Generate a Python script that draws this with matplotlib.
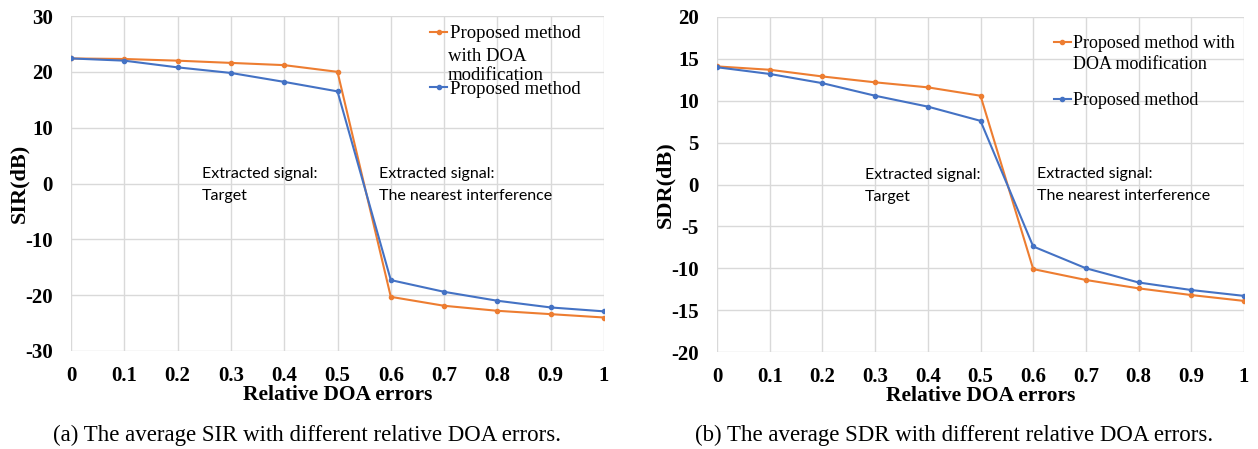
import matplotlib
matplotlib.use("Agg")
import matplotlib.pyplot as plt
import numpy as np

# relative DOA errors (x axis)
doa_err = [0, 0.1, 0.2, 0.3, 0.4, 0.5, 0.6, 0.7, 0.8, 0.9, 1]
xtick_labels = ["0", "0.1", "0.2", "0.3", "0.4", "0.5", "0.6", "0.7", "0.8", "0.9", "1"]

# (a) SIR in dB
sir_doa_mod = [22.4, 22.3, 22.0, 21.6, 21.2, 20.0, -20.3, -21.9, -22.8, -23.4, -24.0]
sir_proposed = [22.4, 22.0, 20.8, 19.8, 18.2, 16.5, -17.3, -19.4, -21.0, -22.2, -22.9]

# (b) SDR in dB
sdr_doa_mod = [14.1, 13.7, 12.9, 12.2, 11.6, 10.6, -10.1, -11.4, -12.4, -13.2, -13.9]
sdr_proposed = [14.0, 13.2, 12.1, 10.6, 9.3, 7.6, -7.4, -10.0, -11.7, -12.6, -13.3]

ORANGE = "#ED7D31"
BLUE = "#4472C4"
GRID = "#d9d9d9"

plt.rcParams['font.family'] = ['Liberation Serif', 'DejaVu Serif']
plt.rcParams['axes.unicode_minus'] = False


def drawPanel(ax, y_mod, y_prop, ylim, yticks, ylabel, leg_label, leg_extra, leg_pos,
              extra_pos, leg_spacing, ann_left, ann_right, leg_fs):
    l1, = ax.plot(doa_err, y_mod, color=ORANGE, lw=1.5, marker='o', ms=3)
    l2, = ax.plot(doa_err, y_prop, color=BLUE, lw=1.5, marker='o', ms=3)
    ax.set_xlim(0, 1)
    ax.set_ylim(*ylim)
    ax.set_yticks(yticks)
    ax.set_xticks(doa_err)
    ax.set_xticklabels(xtick_labels)
    ax.grid(True, color=GRID, lw=1)
    ax.set_axisbelow(True)
    for s in ax.spines.values():
        s.set_visible(False)
    ax.tick_params(length=0, labelsize=15)
    ax.tick_params(axis='x', pad=11)
    ax.tick_params(axis='y', pad=13)
    for t in ax.get_xticklabels() + ax.get_yticklabels():
        t.set_fontweight('bold')
    ax.set_xlabel("Relative DOA errors", fontsize=15.5, fontweight='bold', labelpad=-1)
    ax.set_ylabel(ylabel, fontsize=16, fontweight='bold', labelpad=-3)
    ax.legend([l1, l2], [leg_label, "Proposed method"], loc='upper left',
              bbox_to_anchor=leg_pos, frameon=False, fontsize=leg_fs, handlelength=0.9,
              handletextpad=0.15, borderpad=0, borderaxespad=0, labelspacing=leg_spacing)
    ax.text(extra_pos[0], extra_pos[1], leg_extra, transform=ax.transAxes, fontsize=leg_fs,
            va='top', ha='left', linespacing=1.2)
    ax.text(ann_left[0], ann_left[1], "Extracted signal:\nTarget", fontsize=11.5,
            family='Lato', va='center', ha='left', linespacing=1.75)
    ax.text(ann_right[0], ann_right[1], "Extracted signal:\nThe nearest interference",
            fontsize=11.5, family='Lato', va='center', ha='left', linespacing=1.75)


fig = plt.figure(figsize=(12.58, 4.49), dpi=100)
ax1 = fig.add_axes([71 / 1258, 1 - 351 / 449, 533 / 1258, 335 / 449])
ax2 = fig.add_axes([717 / 1258, 1 - 352 / 449, 527 / 1258, 335 / 449])

drawPanel(ax1, sir_doa_mod, sir_proposed, (-30, 30), range(-30, 31, 10), "SIR(dB)",
          "Proposed method", "with DOA\nmodification", (0.674, 0.973), (0.707, 0.905),
          2.05, (0.245, -0.3), (0.578, -0.3), 13.5)
drawPanel(ax2, sdr_doa_mod, sdr_proposed, (-20, 20), range(-20, 21, 5), "SDR(dB)",
          "Proposed method with", "DOA modification", (0.64, 0.945), (0.675, 0.885),
          2.2, (0.28, -0.2), (0.607, -0.1), 13)

fig.text(307 / 1258, 1 - 435 / 449, "(a) The average SIR with different relative DOA errors.",
         fontsize=16.5, ha='center', va='center')
fig.text(954 / 1258, 1 - 435 / 449, "(b) The average SDR with different relative DOA errors.",
         fontsize=16.5, ha='center', va='center')

fig.savefig("out.png", dpi=100)
